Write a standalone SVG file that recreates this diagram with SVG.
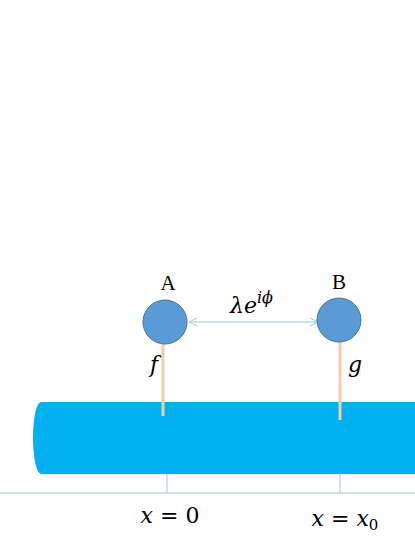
<svg xmlns="http://www.w3.org/2000/svg" width="415" height="537" viewBox="0 0 415 537">
<defs>
<style>
.node{fill:#5b9bd5;stroke:#41719c;stroke-width:1}
.stick{stroke:#f8cbad;stroke-width:3}
.thin{stroke:#9dc3e6;stroke-width:1;fill:none}
.lbl{font-family:"Liberation Serif",serif;font-size:21px;fill:#000}
.math{font-family:"DejaVu Serif","Liberation Serif",serif;font-style:italic;fill:#000}
</style>
<marker id="ah" viewBox="0 0 10 10" refX="10" refY="5" markerWidth="8" markerHeight="8" orient="auto-start-reverse" markerUnits="userSpaceOnUse">
<path d="M0,0 L10,5 L0,10" fill="none" stroke="#9dc3e6" stroke-width="1.2"/>
</marker>
</defs>
<rect width="415" height="537" fill="#fff"/>
<g id="bar">
<path d="M415,402 L41,402 A8,36 0 0 0 41,474 L415,474 Z" fill="#00b0f0"/>
</g>
<g id="connectors">
<line class="stick" x1="163" y1="343" x2="163" y2="416"/>
<line class="stick" x1="340" y1="341" x2="340" y2="420"/>
<line class="thin" x1="189" y1="322" x2="318" y2="322" marker-start="url(#ah)" marker-end="url(#ah)"/>
<line class="thin" x1="167" y1="474" x2="167" y2="493"/>
<line class="thin" x1="340" y1="474" x2="340" y2="493"/>
<line class="thin" x1="0" y1="493" x2="415" y2="493" stroke="#8fb8e0"/>
</g>
<g id="nodeA">
<circle class="node" cx="165" cy="322" r="22"/>
<text class="lbl" x="168" y="290" text-anchor="middle">A</text>
<text class="math" x="154" y="372" font-size="22" text-anchor="middle">f</text>
</g>
<g id="nodeB">
<circle class="node" cx="339" cy="320" r="22"/>
<text class="lbl" x="339" y="289" text-anchor="middle">B</text>
<text class="math" x="355" y="372" font-size="22" text-anchor="middle">g</text>
</g>
<g id="coupling">
<text class="math" x="230" y="313" font-size="22">λe<tspan font-size="16" dy="-10">iϕ</tspan></text>
</g>
<g id="axis-labels">
<text class="math" x="170" y="523" font-size="22" text-anchor="middle">x <tspan font-style="normal">= 0</tspan></text>
<text class="math" x="345" y="526" font-size="22" text-anchor="middle">x <tspan font-style="normal">=</tspan> x<tspan font-size="15" font-style="normal" dy="4">0</tspan></text>
</g>
</svg>
